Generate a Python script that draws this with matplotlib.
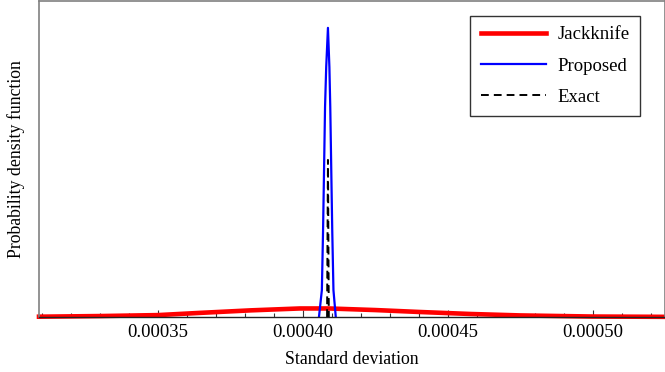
import matplotlib
matplotlib.use("Agg")
import matplotlib.pyplot as plt
from matplotlib.ticker import MultipleLocator, FormatStrFormatter

plt.rcParams['font.family'] = ['Liberation Serif', 'DejaVu Serif']

# Jackknife (wide) density
jack_x = [0.000309, 0.000330, 0.000350, 0.0003645, 0.000382, 0.000399, 0.000409,
          0.000425, 0.000440, 0.000458, 0.000475, 0.000500, 0.000525]
jack_y = [0.001, 0.003, 0.006, 0.013, 0.021, 0.027, 0.027,
          0.022, 0.016, 0.0095, 0.005, 0.0015, 0.0005]

# Proposed (narrow) density
prop_x = [0.0004056, 0.0004066, 0.0004070, 0.0004073, 0.0004077, 0.0004081, 0.0004087,
          0.0004092, 0.0004095, 0.0004099, 0.0004102, 0.0004106, 0.0004114]
prop_y = [0.0, 0.085, 0.266, 0.434, 0.665, 0.791, 0.915,
          0.791, 0.665, 0.434, 0.266, 0.085, 0.0]

# Exact density
exact_x = [0.0004084, 0.0004087, 0.0004090]
exact_y = [0.0, 0.497, 0.0]

fig = plt.figure(figsize=(6.65, 3.72), dpi=100)
ax = fig.add_axes([39/665, 1 - 317/372, 1 - 39/665, 316/372])

ax.plot(jack_x, jack_y, color='#ff0000', lw=3.3, label='Jackknife', clip_on=False, zorder=2)
ax.plot(prop_x, prop_y, color='#0000ff', lw=1.6, label='Proposed', zorder=3)
ax.plot(exact_x, exact_y, color='black', lw=1.4, ls=(0, (4.0, 2.6)), label='Exact', zorder=4)

ax.set_xlim(0.000309, 0.000525)
ax.set_ylim(0, 1.0)

ax.xaxis.set_major_locator(MultipleLocator(0.00005))
ax.xaxis.set_minor_locator(MultipleLocator(0.00001))
ax.xaxis.set_major_formatter(FormatStrFormatter('%.5f'))
ax.tick_params(axis='x', which='major', direction='in', length=5, width=0.8,
               labelsize=13.5, pad=5, color='#333333')
ax.tick_params(axis='x', which='minor', direction='in', length=3, width=0.8, color='#333333')
ax.set_yticks([])

for s in ['left', 'top', 'right']:
    ax.spines[s].set_color('#808080')
    ax.spines[s].set_linewidth(1.2)
ax.spines['bottom'].set_color('#222222')
ax.spines['bottom'].set_linewidth(1.0)
ax.spines['bottom'].set_zorder(5)

ax.set_xlabel('Standard deviation', fontsize=12.8, labelpad=7)
ax.set_ylabel('Probability density function', fontsize=12.8, labelpad=10)

leg = ax.legend(loc='upper right', bbox_to_anchor=(640/665, 1 - 16/372),
                bbox_transform=fig.transFigure, fontsize=13.5, frameon=True, fancybox=False,
                edgecolor='black', handlelength=3.5, labelspacing=0.75, borderpad=0.55,
                handletextpad=0.6, borderaxespad=0)
leg.get_frame().set_linewidth(1.0)

fig.savefig('out.png', dpi=100)
